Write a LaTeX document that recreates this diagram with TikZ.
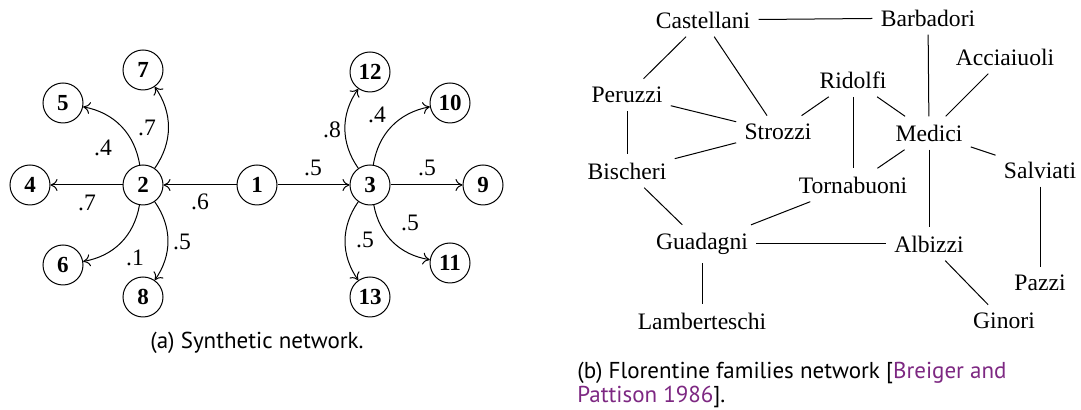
\documentclass[tikz,border=0pt]{standalone}
\usepackage{fontspec}
\setmainfont{Liberation Serif}
\newfontfamily\capfont{PT Sans}
\usetikzlibrary{arrows.meta}
\definecolor{citepurple}{RGB}{125,40,130}
\begin{document}
\begin{tikzpicture}[x=0.5pt,y=-0.5pt,
  vtx/.style={circle,draw,line width=0.5pt,minimum size=20pt,inner sep=0pt,font=\fontsize{11.5}{13}\selectfont\bfseries},
  fam/.style={font=\fontsize{11.8}{14}\selectfont,inner sep=4pt},
  wl/.style={font=\fontsize{11.8}{14}\selectfont,inner sep=0pt},
  arr/.style={-{To[length=3.5pt,width=6pt]},line width=0.5pt},
  ln/.style={line width=0.5pt},
  captext/.style={font=\capfont\fontsize{11.5}{12}\selectfont,inner sep=0pt}]
\useasboundingbox (0,0) rectangle (1081,410);
% synthetic network
\node[vtx] (n1) at (257,185) {1};
\node[vtx] (n2) at (143,185) {2};
\node[vtx] (n3) at (370,185) {3};
\node[vtx] (n4) at (30,185) {4};
\node[vtx] (n5) at (63,103) {5};
\node[vtx] (n6) at (63,265) {6};
\node[vtx] (n7) at (143,70) {7};
\node[vtx] (n8) at (143,297) {8};
\node[vtx] (n9) at (483,185) {9};
\node[vtx] (n10) at (450,103) {10};
\node[vtx] (n11) at (450,263) {11};
\node[vtx] (n12) at (370,72) {12};
\node[vtx] (n13) at (370,297) {13};
\draw[arr] (n1) -- (n2);
\draw[arr] (n1) -- (n3);
\draw[arr] (n2) -- (n4);
\draw[arr] (n2) to[bend right=35] (n5);
\draw[arr] (n2) to[bend right=35] (n7);
\draw[arr] (n2) to[bend left=35] (n6);
\draw[arr] (n2) to[bend left=35] (n8);
\draw[arr] (n3) -- (n9);
\draw[arr] (n3) to[bend left=35] (n12);
\draw[arr] (n3) to[bend left=35] (n10);
\draw[arr] (n3) to[bend right=35] (n11);
\draw[arr] (n3) to[bend right=35] (n13);
\node[wl] (w12) at (200,202) {.6};
\node[wl] (w13) at (313,168) {.5};
\node[wl] (w24) at (87,203) {.7};
\node[wl] (w25) at (103,148) {.4};
\node[wl] (w27) at (147,128) {.7};
\node[wl] (w26) at (135,258) {.1};
\node[wl] (w28) at (182,242) {.5};
\node[wl] (w39) at (427,168) {.5};
\node[wl] (w312) at (332,130) {.8};
\node[wl] (w310) at (377,115) {.4};
\node[wl] (w311) at (410,223) {.5};
\node[wl] (w313) at (365,240) {.5};
\node[captext] (capa) at (257,343) {(a) Synthetic network.};
% Florentine families
\node[fam] (cas) at (703,20) {Castellani};
\node[fam] (bar) at (928,18) {Barbadori};
\node[fam] (per) at (627,95) {Peruzzi};
\node[fam] (acc) at (1005,57) {Acciaiuoli};
\node[fam] (rid) at (853,80) {Ridolfi};
\node[fam] (str) at (778,132) {Strozzi};
\node[fam] (med) at (929,133) {Medici};
\node[fam] (bis) at (627,171) {Bischeri};
\node[fam] (sal) at (1040,170) {Salviati};
\node[fam] (tor) at (853,185) {Tornabuoni};
\node[fam] (gua) at (702,244) {Guadagni};
\node[fam] (alb) at (929,244) {Albizzi};
\node[fam] (paz) at (1040,283) {Pazzi};
\node[fam] (lam) at (702,321) {Lamberteschi};
\node[fam] (gin) at (1004,321) {Ginori};
\draw[ln] (cas) -- (bar);
\draw[ln] (cas) -- (per);
\draw[ln] (cas) -- (str);
\draw[ln] (per) -- (str);
\draw[ln] (per) -- (bis);
\draw[ln] (bis) -- (str);
\draw[ln] (bis) -- (gua);
\draw[ln] (str) -- (rid);
\draw[ln] (rid) -- (med);
\draw[ln] (rid) -- (tor);
\draw[ln] (bar) -- (med);
\draw[ln] (acc) -- (med);
\draw[ln] (med) -- (tor);
\draw[ln] (med) -- (sal);
\draw[ln] (med) -- (alb);
\draw[ln] (sal) -- (paz);
\draw[ln] (tor) -- (gua);
\draw[ln] (gua) -- (alb);
\draw[ln] (gua) -- (lam);
\draw[ln] (alb) -- (gin);
\node[captext,anchor=west] (capb1) at (577,373) {(b) Florentine families network [\textcolor{citepurple}{Breiger and}};
\node[captext,anchor=west] (capb2) at (577,397) {\textcolor{citepurple}{Pattison 1986}].};
\end{tikzpicture}
\end{document}
